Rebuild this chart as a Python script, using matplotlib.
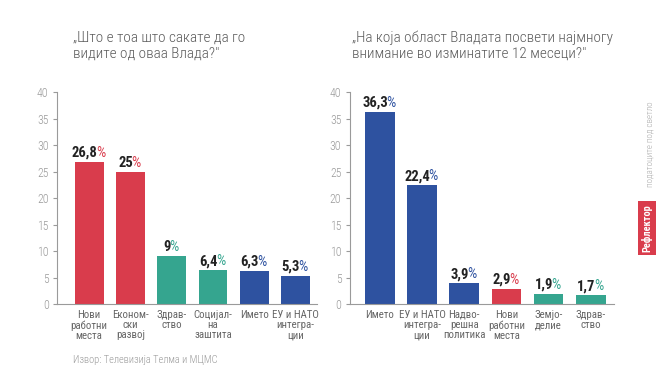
import matplotlib
matplotlib.use("Agg")
import matplotlib.pyplot as plt

# податоци
leviKategorii = ["Нови\nработни\nместа", "Економ-\nски\nразвој", "Здрав-\nство",
                 "Социјал-\nна\nзаштита", "Името", "ЕУ и НАТО\nинтегра-\nции"]
leviVrednosti = [26.8, 25, 9, 6.4, 6.3, 5.3]
leviEtiketi = ["26,8", "25", "9", "6,4", "6,3", "5,3"]
leviBoi = ["r", "r", "g", "g", "b", "b"]

desniKategorii = ["Името", "ЕУ и НАТО\nинтегра-\nции", "Надво-\nрешна\nполитика",
                  "Нови\nработни\nместа", "Земјо-\nделие", "Здрав-\nство"]
desniVrednosti = [36.3, 22.4, 3.9, 2.9, 1.9, 1.7]
desniEtiketi = ["36,3", "22,4", "3,9", "2,9", "1,9", "1,7"]
desniBoi = ["b", "b", "b", "r", "g", "g"]

yTikovi = [0, 5, 10, 15, 20, 25, 30, 35, 40]

boja = {"r": "#d93c4c", "g": "#35a58f", "b": "#2e52a0"}
siva = "#9a9a9a"
tenok = ["Roboto Condensed", "Liberation Sans Narrow", "DejaVu Sans"]

etiketiParovi = []


def crtaj(ax, kategorii, vrednosti, etiketi, boi):
    x = list(range(len(kategorii)))
    ax.bar(x, vrednosti, width=0.7, color=[boja[b] for b in boi], zorder=2)
    ax.set_ylim(0, 40)
    ax.set_yticks(yTikovi)
    ax.set_xticks(x)
    ax.set_xticklabels(kategorii, fontsize=7.8, color="#666666", family=tenok,
                       linespacing=1.05)
    ax.tick_params(axis="x", length=0, pad=4)
    ax.tick_params(axis="y", length=3, color=siva, labelcolor=siva,
                   labelsize=8.5, pad=3)
    for t in ax.get_yticklabels():
        t.set_family(tenok)
        t.set_fontweight("light")
    for s in ["top", "right"]:
        ax.spines[s].set_visible(False)
    for s in ["left", "bottom"]:
        ax.spines[s].set_color(siva)
        ax.spines[s].set_linewidth(0.8)
    for xi, v, e, b in zip(x, vrednosti, etiketi, boi):
        broj = ax.annotate(e, (xi, v), xytext=(0, 5), textcoords="offset pixels",
                           ha="center", va="baseline", color="#222222",
                           fontsize=10.5, fontweight="bold", family=tenok)
        proc = ax.annotate("%", (1, 0), xycoords=broj, xytext=(-1.5, 0),
                           textcoords="offset pixels", ha="left", va="bottom",
                           color=boja[b], fontsize=10.5, family=tenok)
        etiketiParovi.append((broj, proc))


def main():
    fig = plt.figure(figsize=(6.65, 3.74), dpi=100)
    fig.patch.set_facecolor("white")

    ax1 = fig.add_axes([0.0857, 0.187, 0.391, 0.567])
    ax1.set_xlim(-0.78, 5.52)
    crtaj(ax1, leviKategorii, leviVrednosti, leviEtiketi, leviBoi)

    ax2 = fig.add_axes([0.526, 0.187, 0.398, 0.567])
    ax2.set_xlim(-0.71, 5.56)
    crtaj(ax2, desniKategorii, desniVrednosti, desniEtiketi, desniBoi)

    fig.text(0.11, 0.918, "„Што е тоа што сакате да го\nвидите од оваа Влада?\"",
             fontsize=11, color="#5a5a5a", family=tenok, fontweight="light",
             va="top", linespacing=1.15)
    fig.text(0.529, 0.918, "„На која област Владата посвети најмногу\nвнимание во изминатите 12 месеци?\"",
             fontsize=11, color="#5a5a5a", family=tenok, fontweight="light",
             va="top", linespacing=1.15)

    fig.text(0.11, 0.03, "Извор: Телевизија Телма и МЦМС", fontsize=7.5,
             color=siva, family=tenok, fontweight="light")

    fig.text(0.973, 0.39, "Рефлектор", rotation=90, fontsize=7.5,
             fontweight="bold", color="white", family=tenok,
             ha="center", va="center",
             bbox=dict(boxstyle="square,pad=0.3", facecolor="#d93c4c",
                       edgecolor="none"))
    fig.text(0.977, 0.615, "податоците под светло", rotation=90, fontsize=6.5,
             color="#aaaaaa", family=tenok, fontweight="light",
             ha="center", va="center")

    # центрирање на бројот заедно со знакот за процент
    fig.canvas.draw()
    for broj, proc in etiketiParovi:
        w = proc.get_window_extent().width
        broj.set_position((-w / 2, 5))

    fig.savefig("out.png", dpi=100)


if __name__ == "__main__":
    main()
